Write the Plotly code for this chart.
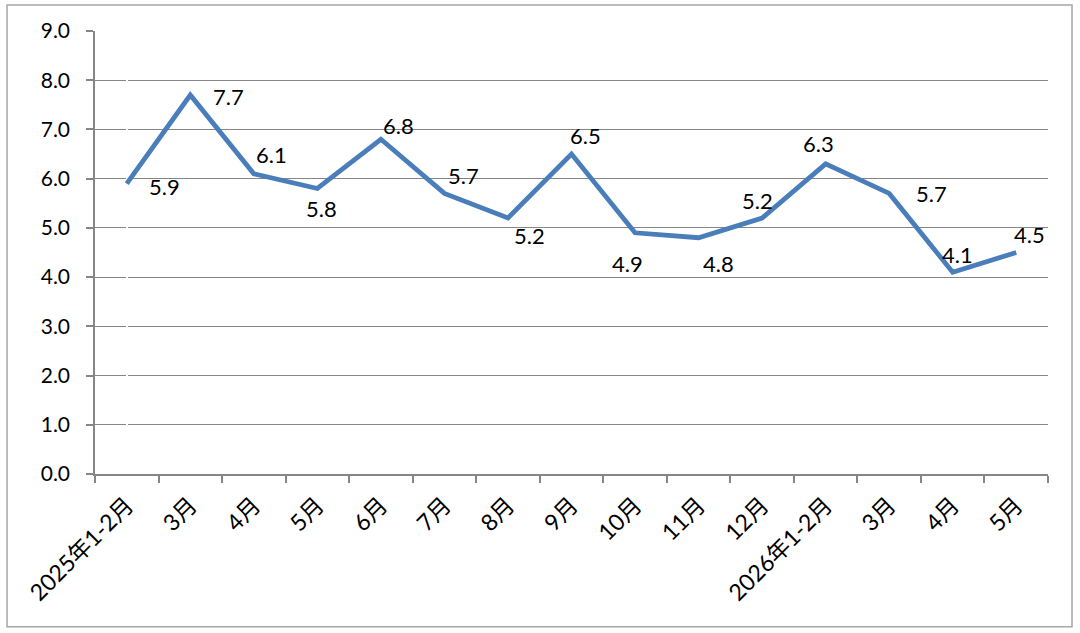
import plotly.graph_objects as go

# monthly values
months = ["2025年1-2月", "3月", "4月", "5月", "6月", "7月", "8月", "9月",
          "10月", "11月", "12月", "2026年1-2月", "3月", "4月", "5月"]
values = [5.9, 7.7, 6.1, 5.8, 6.8, 5.7, 5.2, 6.5, 4.9, 4.8, 5.2, 6.3, 5.7, 4.1, 4.5]
y_ticks = [0, 1, 2, 3, 4, 5, 6, 7, 8, 9]

# where each data label sits relative to its point (px)
label_shift = [(38, -3), (38, -2), (18, 19), (4, -20), (18, 14), (19, 18), (22, -17),
               (14, 19), (-8, -31), (20, -26), (-5, 18), (-7, 20), (42, 0), (5, 18), (13, 18)]

FONT = "Lato, 'Noto Sans CJK SC', sans-serif"
x_idx = list(range(len(months)))
boundaries = [i - 0.5 for i in range(len(months) + 1)]

fig = go.Figure()
fig.add_trace(go.Scatter(
    x=x_idx, y=values, mode="lines",
    line=dict(color="#4A7EBB", width=4.8),
    hoverinfo="skip", showlegend=False,
))

for i, (v, (dx, dy)) in enumerate(zip(values, label_shift)):
    fig.add_annotation(x=i, y=v, text=f"{v:.1f}", showarrow=False,
                       xshift=dx, yshift=dy,
                       font=dict(family=FONT, size=22, color="black"))

fig.update_xaxes(
    range=[-0.5, len(months) - 0.5],
    tickmode="array", tickvals=x_idx, ticktext=months,
    tickangle=-45, showgrid=False, ticks="",
    showline=True, linecolor="#868686", linewidth=1.5,
    minor=dict(tickmode="array", tickvals=boundaries, ticks="outside",
               ticklen=7, tickcolor="#868686", tickwidth=1.5, showgrid=False),
    tickfont=dict(family=FONT, size=23, color="black"),
    ticklabelstandoff=7,
)
fig.update_yaxes(
    range=[0, 9], tickvals=y_ticks, ticktext=[f"{t:.1f}" for t in y_ticks],
    showgrid=True, gridcolor="#868686", gridwidth=1.2,
    showline=True, linecolor="#868686", linewidth=1.5,
    ticks="outside", ticklen=7, tickcolor="#868686", tickwidth=1.5,
    tickfont=dict(family=FONT, size=21, color="black"),
    ticklabelstandoff=12,
    zeroline=False,
)

# outer chart border
fig.add_shape(type="rect", xref="paper", yref="paper",
              x0=-0.0923, x1=1.0252, y0=-0.345, y1=1.0587,
              line=dict(color="#A6A6A6", width=1.5), layer="below")

fig.update_layout(
    width=1080, height=633,
    margin=dict(l=95, r=32, t=31, b=159),
    paper_bgcolor="white", plot_bgcolor="white",
)

fig.write_html("out.html", config={"displayModeBar": False},
               post_script="document.body.style.margin='0';")
